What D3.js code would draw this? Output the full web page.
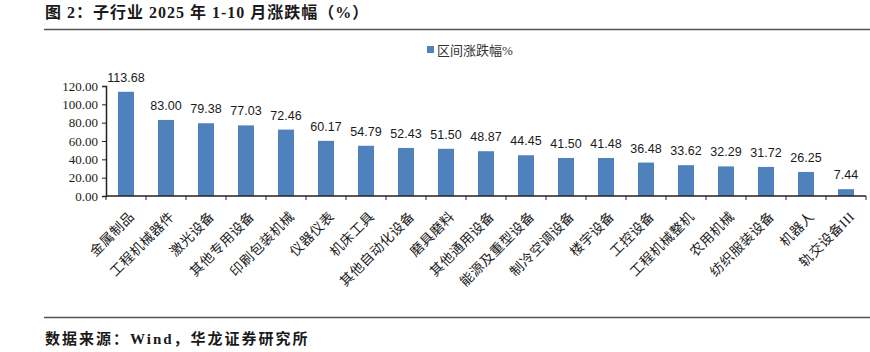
<!DOCTYPE html>
<html>
<head>
<meta charset="utf-8">
<script src="https://cdn.jsdelivr.net/npm/d3@7"></script>
<style>
  body { margin: 0; background: #fff; }
  svg text { fill: #1a1a1a; }
</style>
</head>
<body>
<svg id="chart" width="870" height="352"></svg>
<script>
// data
var categories = ["金属制品", "工程机械器件", "激光设备", "其他专用设备", "印刷包装机械", "仪器仪表",
  "机床工具", "其他自动化设备", "磨具磨料", "其他通用设备", "能源及重型设备", "制冷空调设备",
  "楼宇设备", "工控设备", "工程机械整机", "农用机械", "纺织服装设备", "机器人", "轨交设备III"];
var values = [113.68, 83.00, 79.38, 77.03, 72.46, 60.17, 54.79, 52.43, 51.50, 48.87,
  44.45, 41.50, 41.48, 36.48, 33.62, 32.29, 31.72, 26.25, 7.44];
var yTicks = [0, 20, 40, 60, 80, 100, 120];
var seriesName = "区间涨跌幅%";

var svg = d3.select("#chart");
var serif = "'Liberation Serif', 'Noto Sans CJK SC', serif";
var sans = "'Liberation Sans', Arial, sans-serif";

// header
svg.append("text").attr("x", 45).attr("y", 18)
  .style("font-family", serif).style("font-weight", "bold").style("font-size", "16px")
  .style("letter-spacing", "1px")
  .text("图 2：子行业 2025 年 1-10 月涨跌幅（%）");
svg.append("line").attr("x1", 44).attr("x2", 870).attr("y1", 29.5).attr("y2", 29.5)
  .attr("stroke", "#555").attr("stroke-width", 1.3);

var x = d3.scaleBand().domain(categories).range([106, 866]).paddingInner(0.6).paddingOuter(0.3);
var y = d3.scaleLinear().domain([0, 120]).range([196, 86]);

// legend
var lg = svg.append("g").attr("transform", "translate(427,50)");
lg.append("rect").attr("x", 0).attr("y", -4).attr("width", 7).attr("height", 7).attr("fill", "#4F81BD");
lg.append("text").attr("x", 10).attr("y", 4.5).style("font-family", serif).style("font-size", "13px")
  .style("fill", "#333").text(seriesName);

// bars
svg.append("g").selectAll("rect").data(values).enter().append("rect")
  .attr("x", function(d, i){ return x(categories[i]); })
  .attr("width", x.bandwidth())
  .attr("y", function(d){ return y(d); })
  .attr("height", function(d){ return y(0) - y(d); })
  .attr("fill", "#4F81BD");

// value labels
svg.append("g").selectAll("text").data(values).enter().append("text")
  .attr("x", function(d, i){ return x(categories[i]) + x.bandwidth() / 2; })
  .attr("y", function(d){ return y(d) - 10; })
  .attr("text-anchor", "middle")
  .style("font-family", sans).style("font-size", "12.5px")
  .text(function(d){ return d.toFixed(2); });

// y axis
var yAxis = svg.append("g").attr("transform", "translate(106,0)")
  .call(d3.axisLeft(y).tickValues(yTicks).tickSize(4).tickFormat(function(d){ return d.toFixed(2); }));
yAxis.selectAll("text").style("font-family", serif).style("font-size", "13px").attr("dx", "-1");
yAxis.select(".domain").attr("stroke", "#222").attr("stroke-width", 1.5);
yAxis.selectAll(".tick line").attr("stroke", "#222");

// x axis with ticks between categories
var xAxis = svg.append("g").attr("transform", "translate(0,196)");
xAxis.append("line").attr("x1", 106).attr("x2", 866).attr("stroke", "#222").attr("stroke-width", 1.5);
var step = x.step();
xAxis.selectAll(".sep").data(d3.range(categories.length + 1)).enter().append("line")
  .attr("x1", function(i){ return 106 + i * step; })
  .attr("x2", function(i){ return 106 + i * step; })
  .attr("y1", 0).attr("y2", 4).attr("stroke", "#222");

xAxis.selectAll(".cat").data(categories).enter().append("text")
  .attr("transform", function(d){
    return "translate(" + (x(d) + x.bandwidth() / 2 + 6) + ",18) rotate(-45)";
  })
  .attr("text-anchor", "end")
  .attr("dy", "0.35em")
  .style("font-family", serif).style("font-size", "13.5px")
  .style("letter-spacing", "0.6px")
  .text(function(d){ return d; });

// footer
svg.append("line").attr("x1", 44).attr("x2", 870).attr("y1", 317.5).attr("y2", 317.5)
  .attr("stroke", "#555").attr("stroke-width", 1.3);
svg.append("text").attr("x", 45).attr("y", 344)
  .style("font-family", serif).style("font-weight", "bold").style("font-size", "15px")
  .style("letter-spacing", "2px")
  .text("数据来源：Wind，华龙证券研究所");
</script>
</body>
</html>
